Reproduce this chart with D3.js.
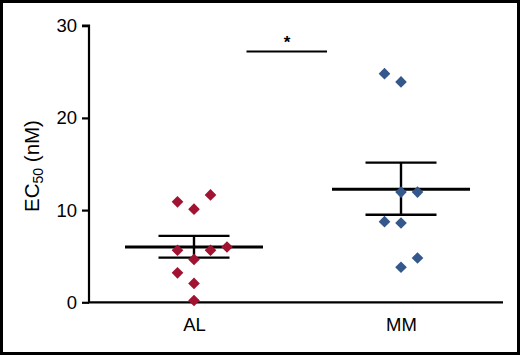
<!DOCTYPE html>
<html>
<head>
<meta charset="utf-8">
<script src="https://cdn.jsdelivr.net/npm/d3@7"></script>
<style>
  body { margin: 0; background: #fff; }
  svg { display: block; font-family: "Liberation Sans", Arial, sans-serif; }
</style>
</head>
<body>
<svg></svg>
<script>
const [width, height] = [520, 355];
const groups = ['AL', 'MM'];
const colors = ['#a01432', '#34578c'];
const alValues = [10.9, 10.1, 11.65, 5.65, 4.65, 5.65, 6.0, 3.2, 2.05, 0.2];
const alOffsets = [-1, 0, 1, -1, 0, 1, 2, -1, 0, 0];
const mmValues = [24.8, 23.9, 11.95, 11.95, 8.75, 8.6, 4.8, 3.8];
const mmOffsets = [-1, 0, 0, 1, -1, 0, 1, 0];
const means = [6.0, 12.25];
const semLow = [4.85, 9.5];
const semHigh = [7.2, 15.15];
const yTicks = [0, 10, 20, 30];
const sigLevel = 27.2;

const svg = d3.select('svg')
  .attr('width', width)
  .attr('height', height);

svg.append('rect')
  .attr('x', 1.5).attr('y', 1.5)
  .attr('width', width - 3).attr('height', height - 3)
  .attr('fill', '#fff')
  .attr('stroke', '#000')
  .attr('stroke-width', 3);

const x = d3.scalePoint()
  .domain(groups)
  .range([194, 401]);
const y = d3.scaleLinear()
  .domain([0, 30])
  .range([302.3, 25.7]);
const step = 16.5;

// axes
svg.append('g')
  .attr('transform', 'translate(89,0)')
  .call(d3.axisLeft(y).tickValues(yTicks).tickSize(7).tickPadding(5))
  .call(g => g.select('.domain').attr('d', `M-7,${y(30)}H0V${y(0)}`))
  .call(g => g.selectAll('path, line').attr('stroke', '#000').attr('stroke-width', 2.2))
  .call(g => g.selectAll('text').attr('font-size', 18.5).attr('fill', '#000'));

svg.append('g')
  .attr('transform', `translate(0,${y(0)})`)
  .call(d3.axisBottom(x).tickSize(0).tickPadding(16))
  .call(g => g.select('.domain').attr('d', 'M88,0H503'))
  .call(g => g.selectAll('path').attr('stroke', '#000').attr('stroke-width', 2.2))
  .call(g => g.selectAll('text').attr('font-size', 18.5).attr('fill', '#000'));

// y label
const ylab = svg.append('text')
  .attr('transform', `translate(39,${(y(0) + y(30)) / 2 + 2}) rotate(-90)`)
  .attr('text-anchor', 'middle')
  .attr('font-size', 20.5)
  .attr('fill', '#000');
ylab.append('tspan').text('EC');
ylab.append('tspan').attr('font-size', 14).attr('dy', 4).text('50');
ylab.append('tspan').attr('dy', -4).text(' (nM)');

// mean and SEM
groups.forEach((gname, i) => {
  const cx = x(gname);
  const g = svg.append('g').attr('stroke', '#000');
  g.append('line')
    .attr('x1', cx - 69).attr('x2', cx + 69)
    .attr('y1', y(means[i])).attr('y2', y(means[i]))
    .attr('stroke-width', 3);
  [semLow[i], semHigh[i]].forEach(v => {
    g.append('line')
      .attr('x1', cx - 35.5).attr('x2', cx + 35.5)
      .attr('y1', y(v)).attr('y2', y(v))
      .attr('stroke-width', 2.4);
  });
  g.append('line')
    .attr('x1', cx).attr('x2', cx)
    .attr('y1', y(semLow[i])).attr('y2', y(semHigh[i]))
    .attr('stroke-width', 2.4);
});

// points
const diamond = d3.symbol().type(d3.symbolSquare).size(68);
const pointSets = [[alValues, alOffsets], [mmValues, mmOffsets]];
pointSets.forEach(([vals, offs], i) => {
  svg.append('g')
    .selectAll('path')
    .data(vals)
    .join('path')
    .attr('d', diamond)
    .attr('transform', (d, j) => `translate(${x(groups[i]) + offs[j] * step},${y(d)}) rotate(45)`)
    .attr('fill', colors[i]);
});

// significance
svg.append('line')
  .attr('x1', 246.5).attr('x2', 327)
  .attr('y1', y(sigLevel)).attr('y2', y(sigLevel))
  .attr('stroke', '#000')
  .attr('stroke-width', 2);
svg.append('text')
  .attr('x', 287)
  .attr('y', y(sigLevel) - 4)
  .attr('text-anchor', 'middle')
  .attr('font-size', 17)
  .attr('font-weight', 'bold')
  .attr('fill', '#000')
  .text('*');
</script>
</body>
</html>
